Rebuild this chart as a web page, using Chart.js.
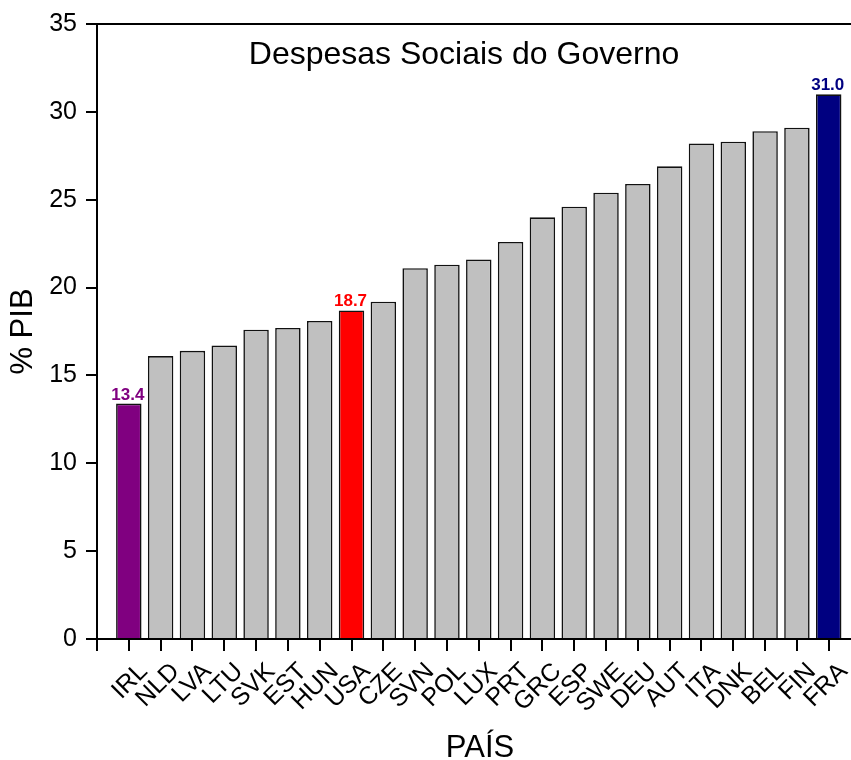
<!DOCTYPE html>
<html>
<head>
<meta charset="utf-8">
<script src="https://cdn.jsdelivr.net/npm/chart.js@4.4.1/dist/chart.umd.min.js"></script>
<style>
  html, body { margin: 0; padding: 0; background: #ffffff; }
  #wrap { width: 851px; height: 760px; position: relative; }
</style>
</head>
<body>
<div id="wrap"><canvas id="c" width="851" height="760"></canvas></div>
<script>
const countries = ['IRL','NLD','LVA','LTU','SVK','EST','HUN','USA','CZE','SVN','POL','LUX','PRT','GRC','ESP','SWE','DEU','AUT','ITA','DNK','BEL','FIN','FRA'];
const spending = [13.4,16.1,16.4,16.7,17.6,17.7,18.1,18.7,19.2,21.1,21.3,21.6,22.6,24.0,24.6,25.4,25.9,26.9,28.2,28.3,28.9,29.1,31.0];
const highlighted = { IRL: '#800080', USA: '#ff0000', FRA: '#000080' };
const yTicks = [0,5,10,15,20,25,30,35];
const titleText = 'Despesas Sociais do Governo';
const xTitle = 'PAÍS';
const yTitle = '% PIB';

const FONT = "'Liberation Sans', Arial, Helvetica, sans-serif";
const barColors = countries.map(c => highlighted[c] || '#c0c0c0');
const points = spending.map((v, i) => ({ x: i, y: v }));

const overlay = {
  id: 'overlay',
  afterDatasetsDraw(chart) {
    const ctx = chart.ctx;
    const area = chart.chartArea;
    ctx.save();
    // top frame line
    ctx.strokeStyle = '#000';
    ctx.lineWidth = 2;
    ctx.beginPath();
    ctx.moveTo(area.left - 1, area.top);
    ctx.lineTo(area.right, area.top);
    ctx.stroke();
    // value labels on highlighted bars
    const meta = chart.getDatasetMeta(0);
    ctx.font = 'bold 17px ' + FONT;
    ctx.textAlign = 'center';
    ctx.textBaseline = 'alphabetic';
    countries.forEach((c, i) => {
      if (highlighted[c]) {
        const el = meta.data[i];
        ctx.fillStyle = highlighted[c];
        ctx.fillText(spending[i].toFixed(1), el.x - 1, el.y - 4);
      }
    });
    // title inside plot
    ctx.fillStyle = '#000';
    ctx.font = '32px ' + FONT;
    ctx.fillText(titleText, 464, 64);
    // x axis title
    ctx.font = '31px ' + FONT;
    ctx.fillText(xTitle, 480, 757);
    ctx.restore();
  }
};

new Chart(document.getElementById('c'), {
  type: 'bar',
  data: {
    datasets: [{
      data: points,
      backgroundColor: barColors,
      borderColor: '#111',
      borderWidth: 1.6,
      borderSkipped: 'bottom',
      barPercentage: 1.0,
      categoryPercentage: 0.8
    }]
  },
  options: {
    responsive: false,
    animation: false,
    devicePixelRatio: 1,
    layout: { padding: 0 },
    plugins: {
      legend: { display: false },
      tooltip: { enabled: false },
      title: { display: false }
    },
    scales: {
      x: {
        type: 'linear',
        min: -1,
        max: 22.7,
        offset: false,
        afterBuildTicks(scale) {
          scale.ticks = [-1].concat(countries.map((c, i) => i)).map(v => ({ value: v }));
        },
        afterFit(scale) {
          scale.height = 121;
          scale.paddingLeft = 0;
          scale.paddingRight = 0;
        },
        ticks: {
          autoSkip: false,
          minRotation: 45,
          maxRotation: 45,
          padding: 6,
          labelOffset: 15,
          color: '#000',
          font: { family: FONT, size: 25 },
          callback: (v) => countries[v] || ''
        },
        grid: {
          offset: false,
          drawOnChartArea: false,
          drawTicks: true,
          tickLength: 12,
          color: '#000',
          lineWidth: 2
        },
        border: { display: true, color: '#000', width: 2 },
        title: { display: false, text: xTitle }
      },
      y: {
        min: 0,
        max: 35,
        afterBuildTicks(scale) { scale.ticks = yTicks.map(v => ({ value: v })); },
        afterFit(scale) { scale.width = 97; },
        ticks: {
          padding: 9,
          color: '#000',
          font: { family: FONT, size: 25 }
        },
        grid: {
          drawOnChartArea: false,
          drawTicks: true,
          tickLength: 11,
          color: '#000',
          lineWidth: 2
        },
        border: { display: true, color: '#000', width: 2 },
        title: {
          display: true,
          text: yTitle,
          color: '#000',
          font: { family: FONT, size: 31, lineHeight: 1.2 },
          padding: { top: 5, bottom: 0 }
        }
      }
    }
  },
  plugins: [overlay]
});
</script>
</body>
</html>
